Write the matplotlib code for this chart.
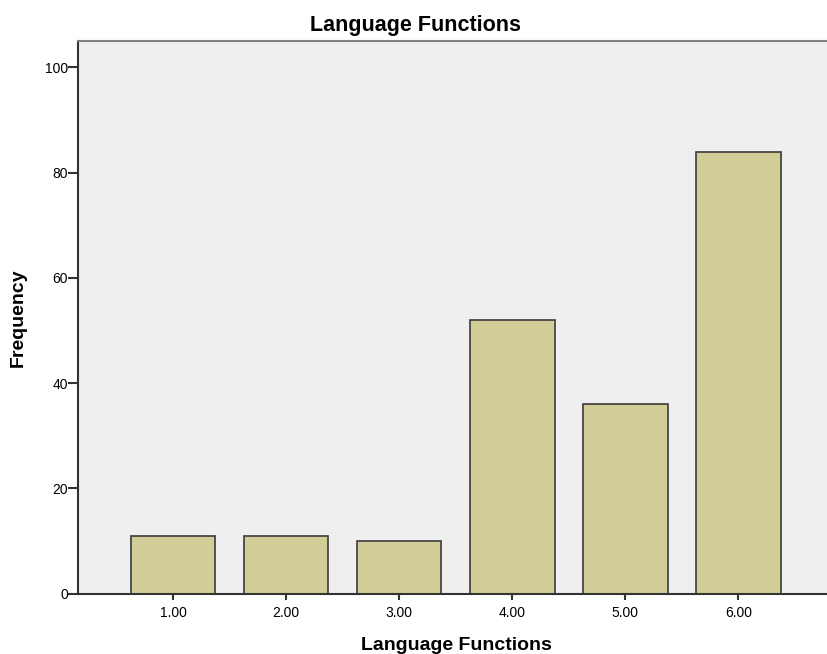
import numpy as np
import matplotlib.pyplot as plt

plt.rcParams['font.family'] = ['Liberation Sans', 'DejaVu Sans']

# frequency of each language function category
categories = [1.0, 2.0, 3.0, 4.0, 5.0, 6.0]
tick_labels = ['1.00', '2.00', '3.00', '4.00', '5.00', '6.00']
frequency = [11, 11, 10, 52, 36, 84]

fig = plt.figure(figsize=(8.27, 6.54), dpi=100)
ax = fig.add_axes([0.0949, 0.0922, 0.9051, 0.8451])
ax.set_facecolor('#efefef')

ax.bar(categories, frequency, width=0.75, color='#d3ce97',
       edgecolor='#3a3a3a', linewidth=1.2)

ax.set_xlim(0.164, 6.785)
ax.set_ylim(0, 105)
ax.set_yticks([0, 20, 40, 60, 80, 100])
ax.set_xticks(categories)
ax.set_xticklabels(tick_labels)

ax.tick_params(axis='both', labelsize=10, width=1.5, color='#333333')
ax.tick_params(axis='x', length=4.5, pad=4)
ax.tick_params(axis='y', length=7.5, pad=0)

for s in ['left', 'bottom']:
    ax.spines[s].set_color('#333333')
    ax.spines[s].set_linewidth(1.5)
ax.spines['top'].set_color('#808080')
ax.spines['top'].set_linewidth(1.5)
ax.spines['right'].set_visible(False)

# titles placed in figure coordinates like the SPSS output
fig.text(0.503, 0.953, 'Language Functions', fontsize=15.5, fontweight='bold',
         ha='center', va='baseline')
fig.text(0.5514, 0.0061, 'Language Functions', fontsize=14, fontweight='bold',
         ha='center', va='baseline')
fig.text(0.0224, 0.515, 'Frequency', fontsize=14, fontweight='bold',
         ha='center', va='center', rotation=90)

fig.savefig('out.png', dpi=100)
